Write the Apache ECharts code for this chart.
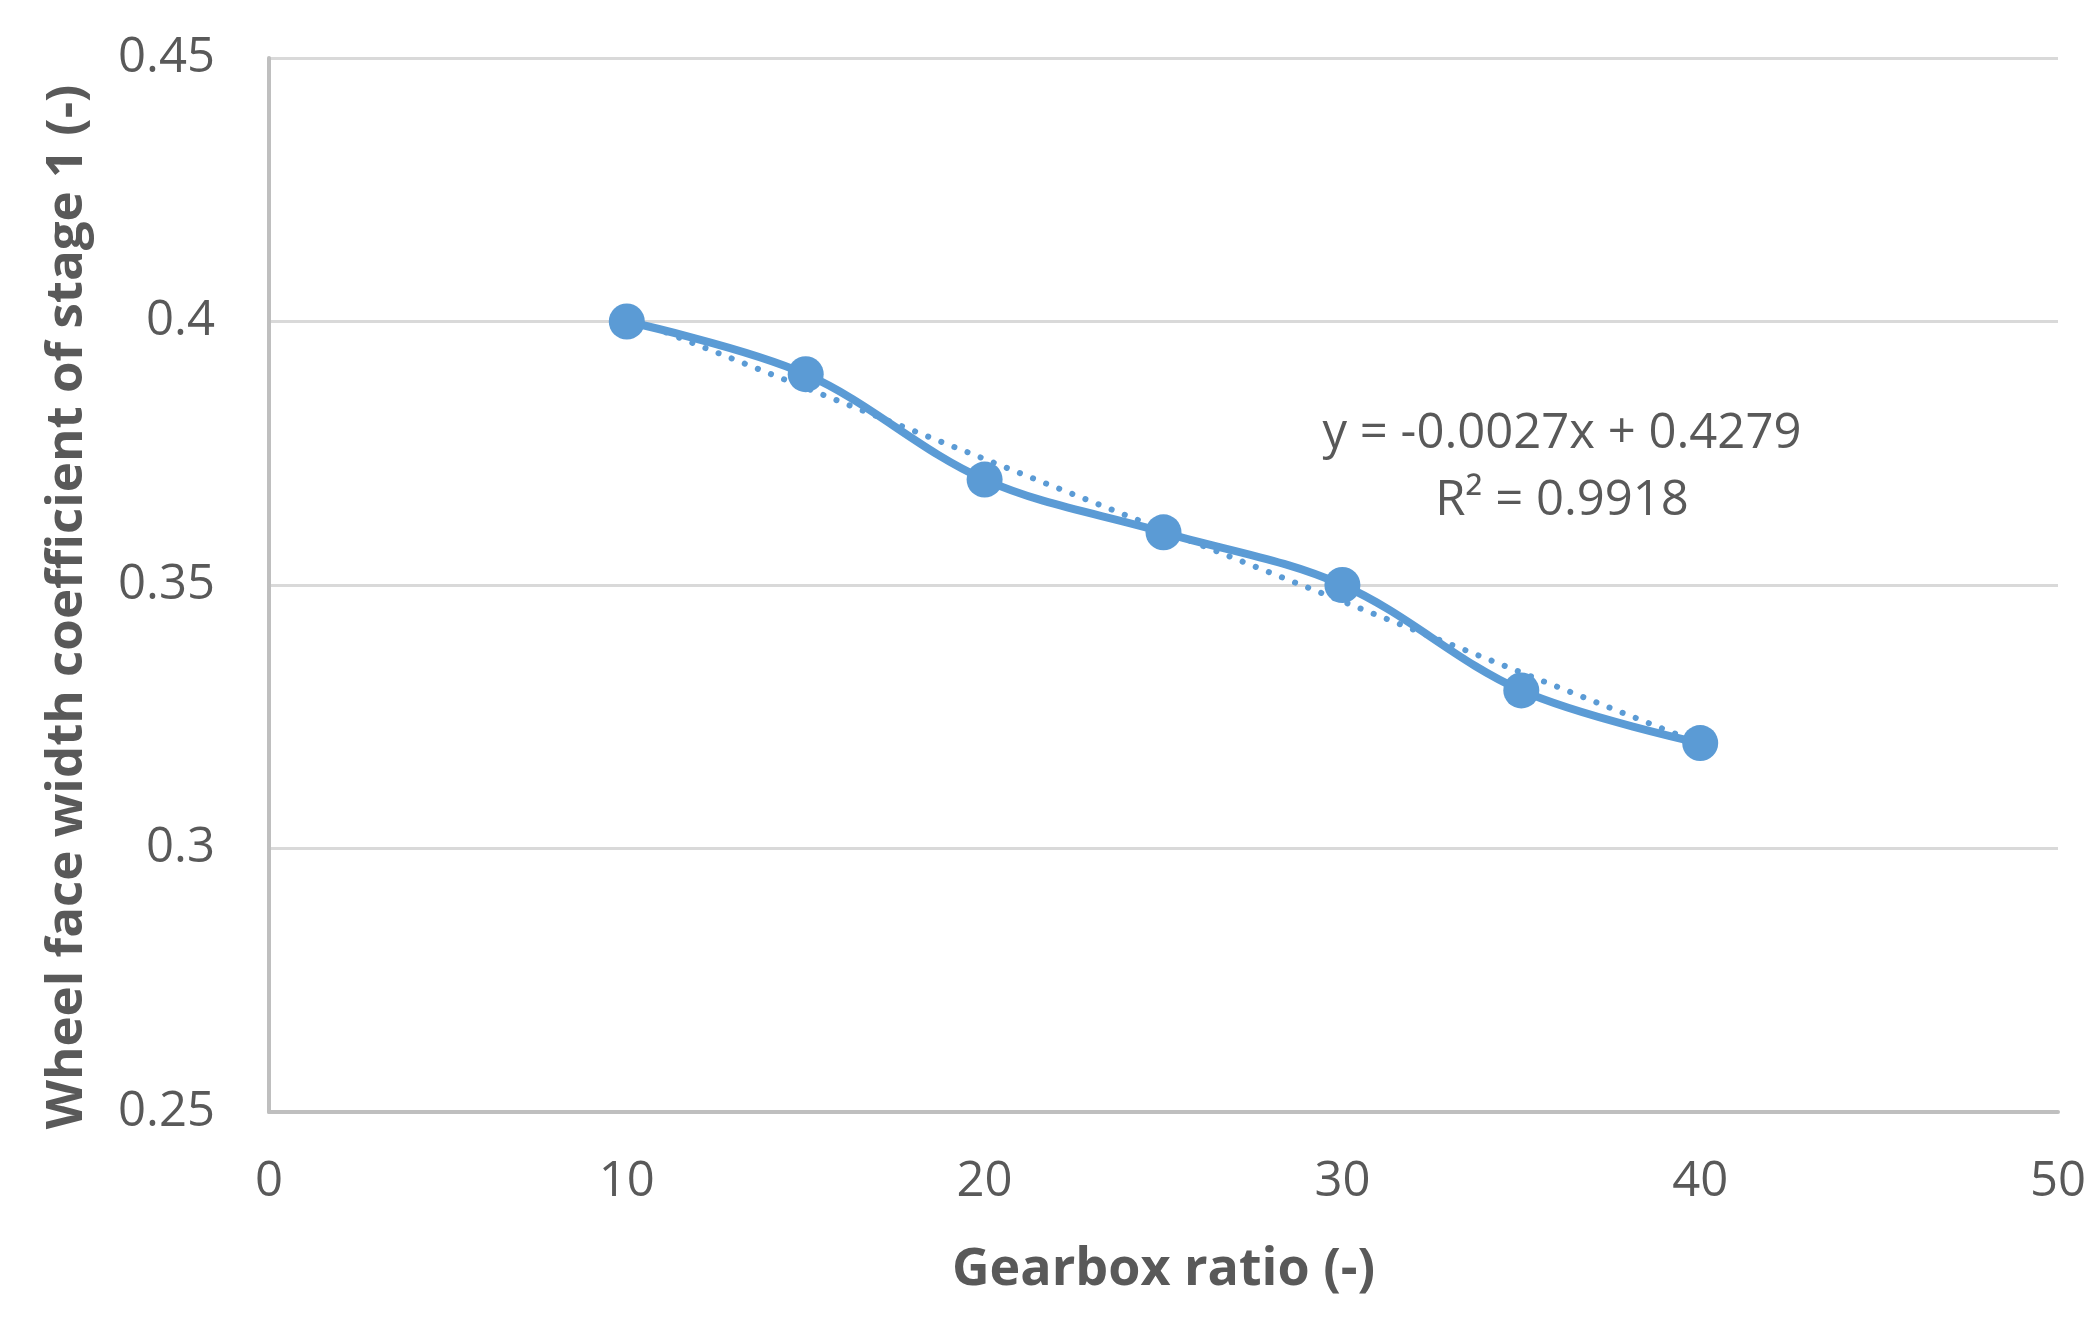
<!DOCTYPE html>
<html>
<head>
<meta charset="utf-8">
<script src="https://cdn.jsdelivr.net/npm/echarts@6/dist/echarts.min.js"></script>
<style>html,body{margin:0;padding:0;background:#fff}#c{width:2099px;height:1323px}</style>
</head>
<body>
<div id="c"></div>
<script>
var ratios = [10, 15, 20, 25, 30, 35, 40];
var coeffs = [0.40, 0.39, 0.37, 0.36, 0.35, 0.33, 0.32];
var trendSlope = -0.0027;
var trendIntercept = 0.4279;
var trendX = [10, 40];
var xTicks = [0, 10, 20, 30, 40, 50];
var yTicks = [0.25, 0.3, 0.35, 0.4, 0.45];
var eqLine1 = 'y = -0.0027x + 0.4279';
var eqLine2 = 'R\u00B2 = 0.9918';

var FONT = '"Open Sans", sans-serif';
var chart = echarts.init(document.getElementById('c'));
var mainData = ratios.map(function (x, i) { return [x, coeffs[i]]; });
var trendData = trendX.map(function (x) { return [x, trendSlope * x + trendIntercept]; });

chart.setOption({
  animation: false,
  backgroundColor: '#ffffff',
  grid: { left: 269, right: 41, top: 58, bottom: 211, containLabel: false },
  xAxis: {
    type: 'value', min: 0, max: 50, interval: 10,
    name: 'Gearbox ratio (-)', nameLocation: 'middle', nameGap: 132,
    nameTextStyle: { fontFamily: FONT, fontSize: 52, fontWeight: 'bold', color: '#595959' },
    axisLine: { show: true, lineStyle: { color: '#BFBFBF', width: 4 } },
    axisTick: { show: false },
    splitLine: { show: false },
    axisLabel: { fontFamily: FONT, fontSize: 49, color: '#595959', margin: 46,
      formatter: function (v) { return xTicks.indexOf(v) >= 0 ? String(v) : ''; } }
  },
  yAxis: {
    type: 'value', min: 0.25, max: 0.45, interval: 0.05,
    name: 'Wheel face width coefficient of stage 1 (-)', nameLocation: 'middle', nameGap: 176,
    nameTextStyle: { fontFamily: FONT, fontSize: 51, fontWeight: 'bold', color: '#595959', padding: [0, 0, 0, -44] },
    axisLine: { show: true, lineStyle: { color: '#BFBFBF', width: 4 } },
    axisTick: { show: false },
    splitLine: { show: true, lineStyle: { color: '#D9D9D9', width: 3 } },
    axisLabel: { fontFamily: FONT, fontSize: 49, color: '#595959', margin: 54,
      formatter: function (v) {
        var r = Math.round(v * 100) / 100;
        return yTicks.some(function (t) { return Math.abs(t - r) < 1e-9; }) ? String(r) : '';
      } }
  },
  series: [
    {
      type: 'line', data: trendData, symbol: 'none', z: 2,
      lineStyle: { color: '#5B9BD5', width: 6, type: [0.1, 14], cap: 'round' }
    },
    {
      type: 'line', data: mainData, smooth: 0.35, symbol: 'circle', symbolSize: 36, z: 3,
      lineStyle: { color: '#5B9BD5', width: 8 },
      itemStyle: { color: '#5B9BD5' }
    }
  ],
  graphic: [
    { type: 'text', x: 1562, y: 434, style: { text: eqLine1, fontFamily: FONT, fontSize: 49, fill: '#595959', align: 'center', verticalAlign: 'middle' } },
    { type: 'text', x: 1562, y: 501, style: { text: eqLine2, fontFamily: FONT, fontSize: 49, fill: '#595959', align: 'center', verticalAlign: 'middle' } }
  ]
});
</script>
</body>
</html>
